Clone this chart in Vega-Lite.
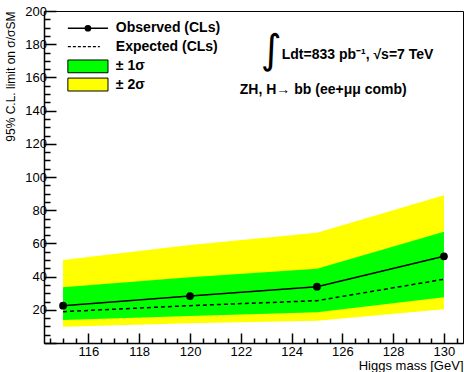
{
  "$schema": "https://vega.github.io/schema/vega-lite/v6.json",
  "width": 419,
  "height": 332,
  "autosize": "none",
  "padding": {"left": 44, "top": 11, "right": 1, "bottom": 29},
  "background": "white",
  "config": {
    "view": {"stroke": "black", "strokeWidth": 1},
    "font": "Liberation Sans",
    "axis": {"grid": false, "domainColor": "black", "domainWidth": 1.5, "tickColor": "black", "tickWidth": 1.5, "labelColor": "black", "titleColor": "black", "labelFont": "Liberation Sans", "titleFont": "Liberation Sans", "labelFontSize": 13, "titleFontWeight": "normal"}
  },
  "datasets": {
    "limits": [
      {"mass": 115, "obs": 22.5, "exp": 18.9, "g_lo": 13.9, "g_hi": 33.6, "y_lo": 9.8, "y_hi": 50.0},
      {"mass": 120, "obs": 28.3, "exp": 22.5, "g_lo": 16.3, "g_hi": 39.6, "y_lo": 11.9, "y_hi": 59.0},
      {"mass": 125, "obs": 33.9, "exp": 25.5, "g_lo": 18.5, "g_hi": 44.8, "y_lo": 13.4, "y_hi": 66.4},
      {"mass": 130, "obs": 52.2, "exp": 38.4, "g_lo": 27.5, "g_hi": 67.0, "y_lo": 20.3, "y_hi": 89.0}
    ]
  },
  "layer": [
    {
      "data": {"name": "limits"},
      "mark": {"type": "area", "color": "#ffff00", "opacity": 1},
      "encoding": {
        "x": {"field": "mass", "type": "quantitative",
          "scale": {"domain": [114.25, 130.75], "nice": false, "zero": false},
          "axis": {
            "title": "Higgs mass [GeV]", "titleAnchor": "end", "titleFontSize": 13, "titlePadding": -4,
            "tickCount": 200,
            "values": [114.5,115,115.5,116,116.5,117,117.5,118,118.5,119,119.5,120,120.5,121,121.5,122,122.5,123,123.5,124,124.5,125,125.5,126,126.5,127,127.5,128,128.5,129,129.5,130,130.5],
            "labelExpr": "datum.value % 2 === 0 ? format(datum.value, 'd') : ''",
            "tickSize": {"condition": {"test": "datum.value % 2 === 0", "value": -10}, "value": -5},
            "labelPadding": 12, "labelFlush": false, "labelOverlap": false
          }},
        "y": {"field": "y_lo", "type": "quantitative",
          "scale": {"domain": [0, 200], "nice": false},
          "axis": {
            "title": "95% C.L. limit on σ/σSM", "titleAnchor": "end", "titleFontSize": 12, "titlePadding": 7,
            "tickCount": 200, "format": "d",
            "values": [0,5,10,15,20,25,30,35,40,45,50,55,60,65,70,75,80,85,90,95,100,105,110,115,120,125,130,135,140,145,150,155,160,165,170,175,180,185,190,195,200],
            "labelExpr": "datum.value % 20 === 0 && datum.value > 0 ? datum.label : ''",
            "tickSize": {"condition": {"test": "datum.value % 20 === 0", "value": -12}, "value": -6},
            "labelPadding": 9.5, "labelFlush": false, "labelOverlap": false
          }},
        "y2": {"field": "y_hi"}
      }
    },
    {
      "data": {"name": "limits"},
      "mark": {"type": "area", "color": "#00ff00", "opacity": 1},
      "encoding": {
        "x": {"field": "mass", "type": "quantitative"},
        "y": {"field": "g_lo", "type": "quantitative"},
        "y2": {"field": "g_hi"}
      }
    },
    {
      "data": {"name": "limits"},
      "mark": {"type": "line", "color": "black", "strokeWidth": 1.5, "strokeDash": [4, 3]},
      "encoding": {
        "x": {"field": "mass", "type": "quantitative"},
        "y": {"field": "exp", "type": "quantitative"}
      }
    },
    {
      "data": {"name": "limits"},
      "mark": {"type": "line", "color": "black", "strokeWidth": 1.5},
      "encoding": {
        "x": {"field": "mass", "type": "quantitative"},
        "y": {"field": "obs", "type": "quantitative"}
      }
    },
    {
      "data": {"name": "limits"},
      "mark": {"type": "point", "filled": true, "color": "black", "size": 60, "opacity": 1},
      "encoding": {
        "x": {"field": "mass", "type": "quantitative"},
        "y": {"field": "obs", "type": "quantitative"}
      }
    },
    {
      "data": {"values": [{"x1": 115.19, "x2": 116.77, "y1": 159.6, "y2": 151.8}]},
      "mark": {"type": "rect", "color": "#ffff00", "stroke": "black", "strokeWidth": 1},
      "encoding": {
        "x": {"field": "x1", "type": "quantitative"}, "x2": {"field": "x2"},
        "y": {"field": "y1", "type": "quantitative"}, "y2": {"field": "y2"}
      }
    },
    {
      "data": {"values": [{"x1": 115.19, "x2": 116.77, "y1": 170.5, "y2": 162.8}]},
      "mark": {"type": "rect", "color": "#00ff00", "stroke": "black", "strokeWidth": 1},
      "encoding": {
        "x": {"field": "x1", "type": "quantitative"}, "x2": {"field": "x2"},
        "y": {"field": "y1", "type": "quantitative"}, "y2": {"field": "y2"}
      }
    },
    {
      "data": {"values": [{"x": 115.19, "y": 189.6}, {"x": 116.77, "y": 189.6}]},
      "mark": {"type": "line", "color": "black", "strokeWidth": 1.5},
      "encoding": {
        "x": {"field": "x", "type": "quantitative"},
        "y": {"field": "y", "type": "quantitative"}
      }
    },
    {
      "data": {"values": [{"x": 115.19, "y": 178.5}, {"x": 116.45, "y": 178.5}]},
      "mark": {"type": "line", "color": "black", "strokeWidth": 1.2, "strokeDash": [3, 2]},
      "encoding": {
        "x": {"field": "x", "type": "quantitative"},
        "y": {"field": "y", "type": "quantitative"}
      }
    },
    {
      "data": {"values": [{"x": 115.98, "y": 189.6}]},
      "mark": {"type": "point", "filled": true, "color": "black", "size": 45, "opacity": 1},
      "encoding": {
        "x": {"field": "x", "type": "quantitative"},
        "y": {"field": "y", "type": "quantitative"}
      }
    },
    {
      "data": {"values": [
        {"x": 117.08, "y": 189.6, "t": "Observed (CLs)"},
        {"x": 117.08, "y": 178.5, "t": "Expected (CLs)"},
        {"x": 117.08, "y": 166.9, "t": "± 1σ"},
        {"x": 117.08, "y": 155.4, "t": "± 2σ"},
        {"x": 123.61, "y": 173.5, "t": "Ldt=833 pb⁻¹,  √s=7 TeV"},
        {"x": 121.96, "y": 152.4, "t": "ZH, H→ bb (ee+μμ comb)"}
      ]},
      "mark": {"type": "text", "align": "left", "baseline": "middle", "font": "Liberation Sans", "fontWeight": "bold", "fontSize": 14, "color": "black"},
      "encoding": {
        "x": {"field": "x", "type": "quantitative"},
        "y": {"field": "y", "type": "quantitative"},
        "text": {"field": "t"}
      }
    },
    {
      "data": {"values": [{"x": 123.2, "y": 176.0, "t": "∫"}]},
      "mark": {"type": "text", "align": "center", "baseline": "middle", "font": "DejaVu Sans", "fontSize": 40, "color": "black"},
      "encoding": {
        "x": {"field": "x", "type": "quantitative"},
        "y": {"field": "y", "type": "quantitative"},
        "text": {"field": "t"}
      }
    }
  ]
}
